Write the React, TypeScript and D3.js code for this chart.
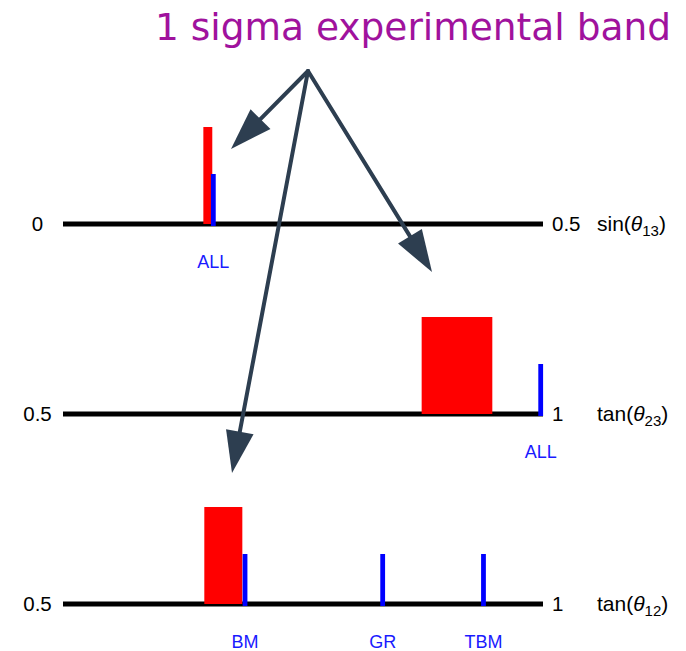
import React from "react";
import * as d3 from "d3";

// Mixing-angle panels: experimental 1-sigma bands (red) and model predictions (blue)
const panelNames = ["sin13", "tan23", "tan12"];
const axisTitles = ["sin", "tan", "tan"];
const axisSubscripts = ["13", "23", "12"];
const domainStart = [0, 0.5, 0.5];
const domainEnd = [0.5, 1, 1];

const bandLow = [0.1462, 0.8736, 0.6472];
const bandHigh = [0.1555, 0.9472, 0.6868];

const predictionPanel = [0, 1, 2, 2, 2];
const predictionLabels = ["ALL", "ALL", "BM", "GR", "TBM"];
const predictionValues = [0.1566, 0.9976, 0.6896, 0.833, 0.938];

const titleText = "1 sigma experimental band";

// Layout
const W = 686;
const H = 651;
const axisY = [224, 414, 604];
const xLeft = 63;
const xRight = 543;
const bandPx = 97;
const predPx = 50;
const arrowOrigin: [number, number] = [308, 71];
const arrowTargets: [number, number][] = [
  [231, 149],
  [432, 272],
  [232, 473],
];

function arrowHead(from: [number, number], to: [number, number]) {
  const dx = to[0] - from[0];
  const dy = to[1] - from[1];
  const len = Math.hypot(dx, dy);
  const ux = dx / len;
  const uy = dy / len;
  const hl = 42;
  const hw = 14;
  const bx = to[0] - ux * hl;
  const by = to[1] - uy * hl;
  const px = -uy;
  const py = ux;
  const pts: [number, number][] = [
    [to[0], to[1]],
    [bx + px * hw, by + py * hw],
    [bx - px * hw, by - py * hw],
  ];
  return {
    path: d3.line()(pts) + "Z",
    lineEnd: [to[0] - ux * (hl - 4), to[1] - uy * (hl - 4)] as [number, number],
  };
}

export default function App() {
  const xScales = panelNames.map((_, i) =>
    d3.scaleLinear().domain([domainStart[i], domainEnd[i]]).range([xLeft, xRight])
  );
  const yScales = panelNames.map((_, i) =>
    d3.scaleLinear().domain([0, 1]).range([axisY[i], axisY[i] - bandPx])
  );
  const predFrac = predPx / bandPx;
  const labelFont = "'Liberation Sans', Arial, Helvetica, sans-serif";

  return (
    <svg
      width={W}
      height={H}
      style={{ position: "absolute", left: 0, top: 0, background: "#fff" }}
    >
      <text
        x={671}
        y={40}
        textAnchor="end"
        fontFamily="'DejaVu Sans', sans-serif"
        fontSize={37.5}
        fill="#a0129d"
      >
        {titleText}
      </text>

      {panelNames.map((name, i) => {
        const x = xScales[i];
        const y = yScales[i];
        return (
          <g key={name}>
            <line
              x1={x(domainStart[i])}
              x2={x(domainEnd[i])}
              y1={axisY[i]}
              y2={axisY[i]}
              stroke="#000"
              strokeWidth={5}
            />
            <rect
              x={x(bandLow[i])}
              width={x(bandHigh[i]) - x(bandLow[i])}
              y={y(1)}
              height={y(0) - y(1)}
              fill="#ff0000"
            />
            <text
              x={37.5}
              y={axisY[i] + 7}
              textAnchor="middle"
              fontFamily={labelFont}
              fontSize={20.5}
              fill="#000"
            >
              {String(domainStart[i])}
            </text>
            <text
              x={552}
              y={axisY[i] + 7}
              fontFamily={labelFont}
              fontSize={20.5}
              fill="#000"
            >
              {String(domainEnd[i])}
            </text>
            <text
              x={597}
              y={axisY[i] + 7}
              fontFamily={labelFont}
              fontSize={21}
              fill="#000"
            >
              {axisTitles[i]}(
              <tspan fontStyle="italic">θ</tspan>
              <tspan fontSize={15} dy={5}>
                {axisSubscripts[i]}
              </tspan>
              <tspan dy={-5}>)</tspan>
            </text>
          </g>
        );
      })}

      {predictionValues.map((v, k) => {
        const p = predictionPanel[k];
        const x = xScales[p](v);
        const y = yScales[p];
        return (
          <g key={k}>
            <line
              x1={x}
              x2={x}
              y1={y(0) + 2}
              y2={y(predFrac)}
              stroke="#0000ff"
              strokeWidth={4.8}
            />
            <text
              x={x}
              y={axisY[p] + 44}
              textAnchor="middle"
              fontFamily={labelFont}
              fontSize={18}
              fill="#1a1aff"
            >
              {predictionLabels[k]}
            </text>
          </g>
        );
      })}

      {arrowTargets.map((t, k) => {
        const h = arrowHead(arrowOrigin, t);
        return (
          <g key={k}>
            <line
              x1={arrowOrigin[0]}
              y1={arrowOrigin[1]}
              x2={h.lineEnd[0]}
              y2={h.lineEnd[1]}
              stroke="#2d3e50"
              strokeWidth={4}
              strokeLinecap="round"
            />
            <path d={h.path} fill="#2d3e50" />
          </g>
        );
      })}
    </svg>
  );
}
